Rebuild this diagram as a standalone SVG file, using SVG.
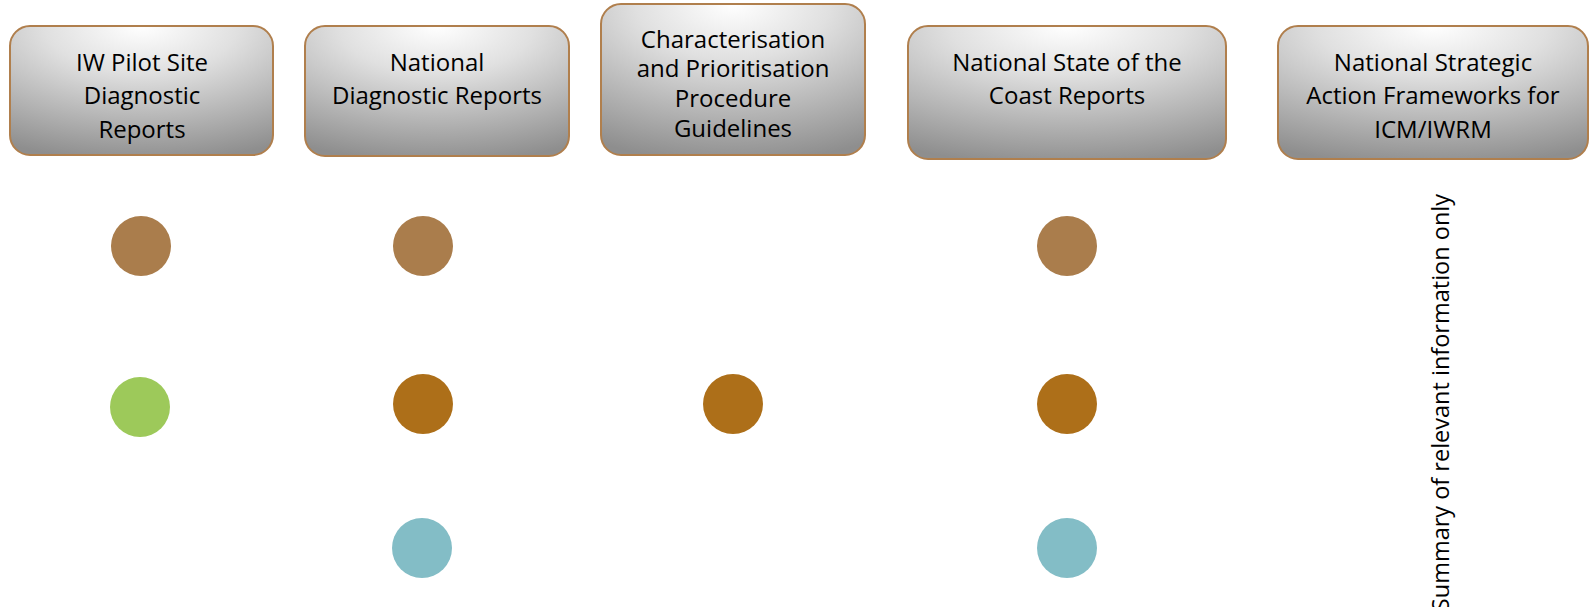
<svg xmlns="http://www.w3.org/2000/svg" width="1589" height="607" viewBox="0 0 1589 607">
<defs>
<radialGradient id="g" cx="0.5" cy="0" r="1.05" fx="0.5" fy="0">
<stop offset="0" stop-color="#ffffff"/>
<stop offset="0.35" stop-color="#e0e0e0"/>
<stop offset="1" stop-color="#8e8e8e"/>
</radialGradient>
<style>
.box{fill:url(#g);stroke:#b07f4d;stroke-width:2}
.t{font-family:"Open Sans","DejaVu Sans",sans-serif;font-size:24px;fill:#000;text-anchor:middle}
.v{font-family:"Open Sans","DejaVu Sans",sans-serif;font-size:23.5px;fill:#000;text-anchor:end}
.c1{fill:#aa7d4c}.c2{fill:#ad6f19}.c3{fill:#9dc95a}.c4{fill:#83bdc6}
</style>
</defs>
<rect width="1589" height="607" fill="#fff"/>
<g id="node-iw">
<rect class="box" x="10" y="26" width="263" height="129" rx="20"/>
<text class="t" x="142" y="71">IW Pilot Site</text>
<text class="t" x="142" y="104">Diagnostic</text>
<text class="t" x="142" y="138">Reports</text>
</g>
<g id="node-ndr">
<rect class="box" x="305" y="26" width="264" height="130" rx="20"/>
<text class="t" x="437" y="71">National</text>
<text class="t" x="437" y="104">Diagnostic Reports</text>
</g>
<g id="node-cpg">
<rect class="box" x="601" y="4" width="264" height="151" rx="20"/>
<text class="t" x="733" y="48">Characterisation</text>
<text class="t" x="733" y="77">and Prioritisation</text>
<text class="t" x="733" y="107">Procedure</text>
<text class="t" x="733" y="137">Guidelines</text>
</g>
<g id="node-nsc">
<rect class="box" x="908" y="26" width="318" height="133" rx="20"/>
<text class="t" x="1067" y="71">National State of the</text>
<text class="t" x="1067" y="104">Coast Reports</text>
</g>
<g id="node-nsaf">
<rect class="box" x="1278" y="26" width="310" height="133" rx="20"/>
<text class="t" x="1433" y="71">National Strategic</text>
<text class="t" x="1433" y="104">Action Frameworks for</text>
<text class="t" x="1433" y="138">ICM/IWRM</text>
</g>
<g id="markers">
<circle class="c1" cx="141" cy="246" r="30"/>
<circle class="c3" cx="140" cy="407" r="30"/>
<circle class="c1" cx="423" cy="246" r="30"/>
<circle class="c2" cx="423" cy="404" r="30"/>
<circle class="c4" cx="422" cy="548" r="30"/>
<circle class="c2" cx="733" cy="404" r="30"/>
<circle class="c1" cx="1067" cy="246" r="30"/>
<circle class="c2" cx="1067" cy="404" r="30"/>
<circle class="c4" cx="1067" cy="548" r="30"/>
</g>
<g id="connectors"/>
<g id="note">
<text class="v" transform="translate(1449,194) rotate(-90)">Summary of relevant information only</text>
</g>
</svg>
